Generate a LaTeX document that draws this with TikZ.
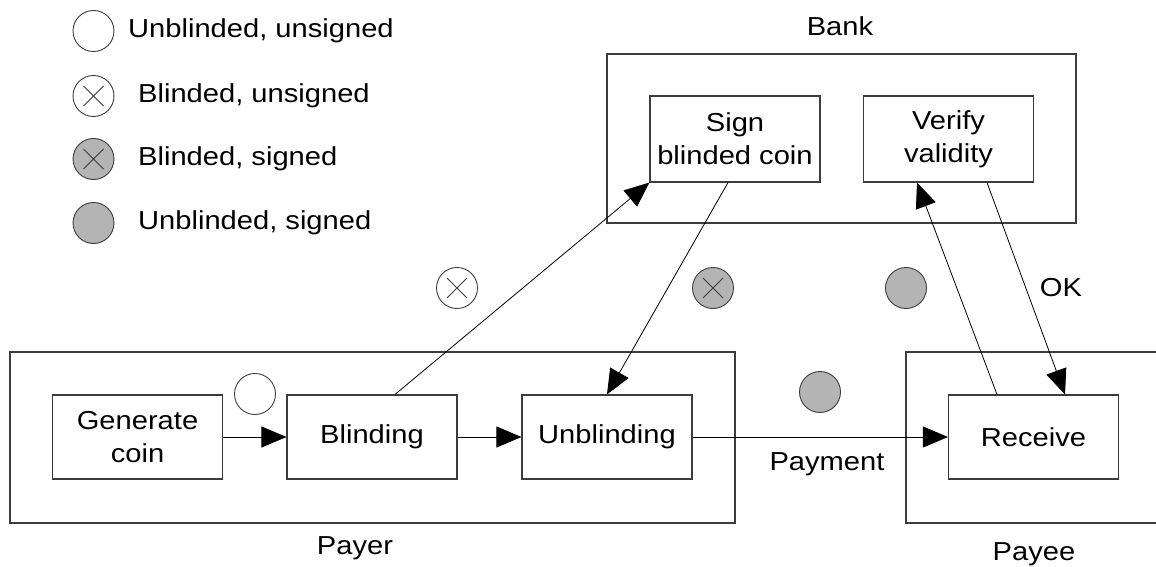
\documentclass[tikz,border=0pt]{standalone}
\usepackage{fontspec}
\setmainfont{Liberation Sans}[FakeStretch=1.12]
\usetikzlibrary{arrows.meta}
\definecolor{coingray}{RGB}{180,180,180}
\definecolor{linegray}{RGB}{60,60,60}
\begin{document}
\begin{tikzpicture}[x=1pt,y=-1pt,
  every node/.style={font=\fontsize{26}{33}\selectfont},
  frame/.style={draw=linegray,line width=1.1pt},
  proc/.style={draw=linegray,line width=1.1pt,minimum width=170pt,minimum height=84pt,align=center,inner sep=0pt,font=\fontsize{26}{33}\selectfont},
  coin/.style={circle,draw=linegray,line width=0.9pt,minimum size=41pt,inner sep=0pt},
  signed/.style={coin,fill=coingray},
  crossed/.style={path picture={\draw[linegray,line width=0.8pt]
      ([shift={(-10pt,-10pt)}]path picture bounding box.center) -- ([shift={(10pt,10pt)}]path picture bounding box.center)
      ([shift={(-10pt,10pt)}]path picture bounding box.center) -- ([shift={(10pt,-10pt)}]path picture bounding box.center);}},
  flow/.style={line width=0.8pt,-{Triangle[length=25pt,width=21pt]}},
  legtext/.style={anchor=west,inner sep=0pt}
]
\useasboundingbox (0,0) rectangle (1156,567);
% legend
\node[coin] (l1) at (93.5,31) {};
\node[coin,crossed] (l2) at (93.5,96) {};
\node[signed,crossed] (l3) at (93.5,159) {};
\node[signed] (l4) at (93.5,223) {};
\node[legtext] (t1) at (128,31) {Unblinded, unsigned};
\node[legtext] (t2) at (138,96) {Blinded, unsigned};
\node[legtext] (t3) at (138,159) {Blinded, signed};
\node[legtext] (t4) at (138,223) {Unblinded, signed};
% containers
\node[frame,minimum width=469pt,minimum height=169pt,inner sep=0pt] (bank) at (841.5,138.5) {};
\node (banklbl) at (840,26) {Bank};
\node[frame,minimum width=725pt,minimum height=171pt,inner sep=0pt] (payer) at (372.5,437.5) {};
\node (payerlbl) at (355,548) {Payer};
\draw[frame] (1170,352) -- (906,352) -- (906,523) -- (1170,523);
\node (payeelbl) at (1034,554) {Payee};
% processes
\node[proc] (gen) at (137.5,437) {Generate\\coin};
\node[proc] (blind) at (372,437) {Blinding};
\node[proc] (unblind) at (607,437) {Unblinding};
\node[proc] (recv) at (1033.5,437) {Receive};
\node[proc,minimum height=86pt] (sign) at (735,139) {Sign\\blinded coin};
\node[proc,minimum height=86pt] (verify) at (948.5,139) {Verify\\validity};
% coins on the diagram
\node[coin] (c1) at (255,394) {};
\node[coin,crossed] (c2) at (457,288) {};
\node[signed,crossed] (c3) at (713,288) {};
\node[signed] (c4) at (906,288) {};
\node[signed] (c5) at (820,392) {};
% connectors
\draw[flow] (gen) -- (blind);
\draw[flow] (blind) -- (unblind);
\draw[flow] (unblind) -- (recv);
\draw[flow] ([xshift=23pt]blind.north) -- (sign.south west);
\draw[flow] ([xshift=-7pt]sign.south) -- (unblind.north);
\draw[flow] ([xshift=-36.5pt]recv.north) -- ([xshift=-31.5pt]verify.south);
\draw[flow] ([xshift=38.5pt]verify.south) -- ([xshift=31.5pt]recv.north);
\node (pay) at (827,464) {Payment};
\node (ok) at (1061,288) {OK};
\end{tikzpicture}
\end{document}
